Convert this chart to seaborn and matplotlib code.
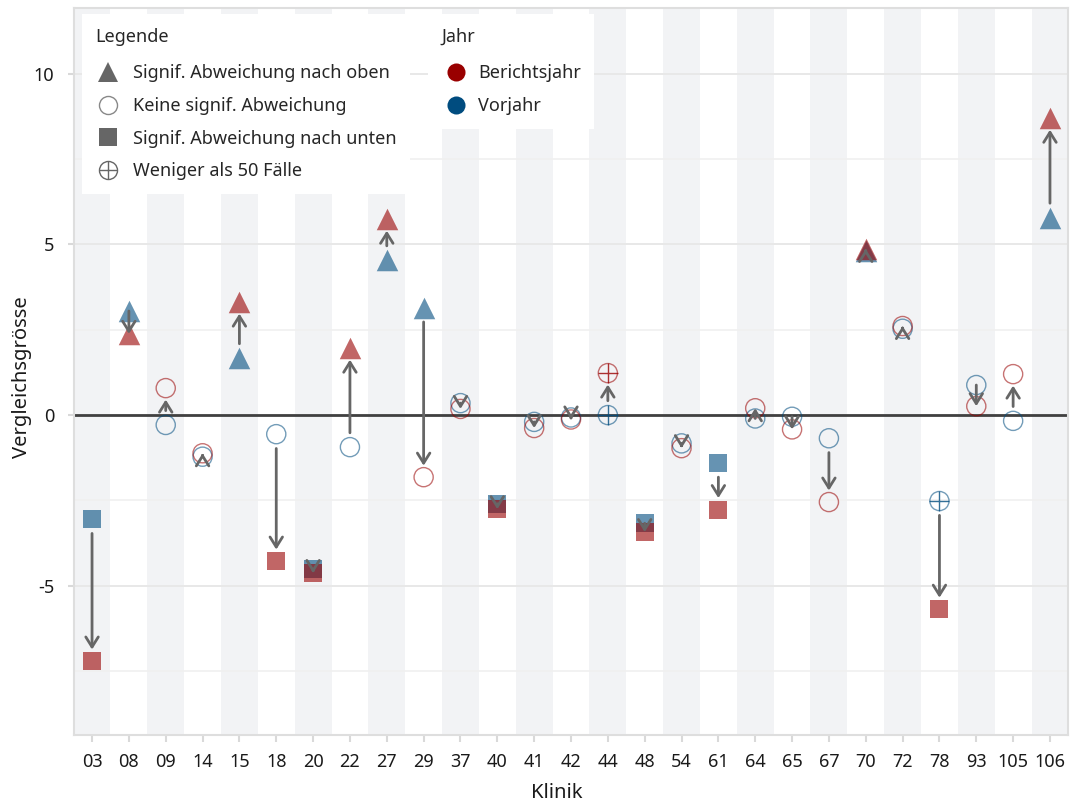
import pandas as pd
import seaborn as sns
import matplotlib.pyplot as plt
from matplotlib.lines import Line2D

# ------------------------------------------------------------------
# data
# ------------------------------------------------------------------
klinik = ['03', '08', '09', '14', '15', '18', '20', '22', '27', '29', '37', '40', '41',
          '42', '44', '48', '54', '61', '64', '65', '67', '70', '72', '78', '93', '105', '106']

vorjahr = [-3.05, 3.05, -0.29, -1.22, 1.67, -0.56, -4.52, -0.94, 4.54, 3.15, 0.35, -2.6, -0.2,
           -0.07, 0.0, -3.17, -0.83, -1.4, -0.1, -0.05, -0.68, 4.8, 2.53, -2.52, 0.88, -0.17, 5.79]
berichtsjahr = [-7.21, 2.38, 0.79, -1.12, 3.31, -4.28, -4.63, 1.96, 5.74, -1.82, 0.18, -2.76, -0.38,
                -0.13, 1.23, -3.43, -0.97, -2.77, 0.2, -0.42, -2.55, 4.87, 2.61, -5.69, 0.26, 1.2, 8.7]

# oben = signif. nach oben, keine = keine signif. Abweichung,
# unten = signif. nach unten, wenig = weniger als 50 Faelle
form_vorjahr = ['unten', 'oben', 'keine', 'keine', 'oben', 'keine', 'unten', 'keine', 'oben', 'oben',
                'keine', 'unten', 'keine', 'keine', 'wenig', 'unten', 'keine', 'unten', 'keine',
                'keine', 'keine', 'oben', 'keine', 'wenig', 'keine', 'keine', 'oben']
form_berichtsjahr = ['unten', 'oben', 'keine', 'keine', 'oben', 'unten', 'unten', 'oben', 'oben', 'keine',
                     'keine', 'unten', 'keine', 'keine', 'wenig', 'unten', 'keine', 'unten', 'keine',
                     'keine', 'keine', 'oben', 'keine', 'unten', 'keine', 'keine', 'oben']

legende_labels = ['Signif. Abweichung nach oben', 'Keine signif. Abweichung',
                  'Signif. Abweichung nach unten', 'Weniger als 50 Fälle']
jahre = ['Berichtsjahr', 'Vorjahr']

# ------------------------------------------------------------------
# style
# ------------------------------------------------------------------
sns.set_theme(style='white')
plt.rcParams['font.family'] = ['Noto Sans', 'DejaVu Sans']
plt.rcParams['axes.unicode_minus'] = False

farben = {'Berichtsjahr': '#990000', 'Vorjahr': '#004c7f'}
grau = '#666666'
textfarbe = '#1a1a1a'

pos = list(range(len(klinik)))
data = pd.concat([
    pd.DataFrame({'pos': pos, 'wert': vorjahr, 'form': form_vorjahr, 'jahr': 'Vorjahr'}),
    pd.DataFrame({'pos': pos, 'wert': berichtsjahr, 'form': form_berichtsjahr, 'jahr': 'Berichtsjahr'}),
], ignore_index=True)

fig = plt.figure(figsize=(10.7, 8.06), dpi=100)
ax = fig.add_axes([0.0688, 0.088, 0.9297, 0.902])

# alternating background bands
for i in range(0, len(klinik), 2):
    ax.axvspan(i - 0.5, i + 0.5, color='#f2f3f5', lw=0, zorder=0)

ax.axhline(0, color='#404040', lw=2, zorder=1.5)

# ------------------------------------------------------------------
# points: Vorjahr first so that Berichtsjahr lies on top
# ------------------------------------------------------------------
for jahr in ['Vorjahr', 'Berichtsjahr']:
    c = farben[jahr]
    for form in ['oben', 'keine', 'unten', 'wenig']:
        sub = data[(data['jahr'] == jahr) & (data['form'] == form)]
        if sub.empty:
            continue
        if form == 'oben':
            sns.scatterplot(data=sub, x='pos', y='wert', marker='^', s=240, color=c,
                            alpha=0.6, linewidth=0, ax=ax, zorder=2)
        elif form == 'unten':
            sns.scatterplot(data=sub, x='pos', y='wert', marker='s', s=175, color=c,
                            alpha=0.6, linewidth=0, ax=ax, zorder=2)
        else:
            sns.scatterplot(data=sub, x='pos', y='wert', marker='o', s=190, color=c,
                            facecolor='none', edgecolor=c, linewidth=1.0, alpha=0.55, ax=ax, zorder=2)
            if form == 'wenig':
                sns.scatterplot(data=sub, x='pos', y='wert', marker='+', s=190, color=c,
                                linewidth=1.0, alpha=0.8, ax=ax, zorder=2)

# arrows from Vorjahr to Berichtsjahr
gap = 0.42
for p, v, b in zip(pos, vorjahr, berichtsjahr):
    d = b - v
    sgn = 1 if d >= 0 else -1
    if abs(d) > 0.95:
        start, end = v + sgn * gap, b - sgn * gap * 0.8
    else:
        start, end = v, b
        if abs(d) < 0.04:
            start = b - sgn * 0.04
    ax.annotate('', xy=(p, end), xytext=(p, start),
                arrowprops=dict(arrowstyle='->,head_length=0.4,head_width=0.25', mutation_scale=18,
                                color=grau, lw=2, shrinkA=0, shrinkB=0),
                zorder=3)

# ------------------------------------------------------------------
# axes
# ------------------------------------------------------------------
ax.set_xlim(-0.5, len(klinik) - 0.5)
ax.set_ylim(-9.38, 11.93)
ax.set_xticks(pos)
ax.set_xticklabels(klinik)
ax.set_yticks([-5, 0, 5, 10])
ax.set_yticks([-7.5, -2.5, 2.5, 7.5], minor=True)
ax.set_axisbelow(True)
ax.grid(axis='y', which='major', color='#e8e8e8', lw=1.4)
ax.grid(axis='y', which='minor', color='#f0f0f0', lw=1.2)
ax.tick_params(axis='both', which='major', length=5, width=1.5, color='#d9d9d9',
               labelsize=13, labelcolor=textfarbe, pad=8)
ax.tick_params(axis='y', which='major', length=4, pad=10)
ax.tick_params(axis='y', which='minor', length=0)
ax.tick_params(axis='x', bottom=True)
ax.tick_params(axis='y', left=True)
for sp in ax.spines.values():
    sp.set_color('#dedede')
    sp.set_linewidth(1.5)
ax.set_xlabel('Klinik', fontsize=14.5, color=textfarbe)
ax.set_ylabel('Vergleichsgrösse', fontsize=14.5, color=textfarbe)
ax.xaxis.set_label_coords(0.486, -0.066)
ax.yaxis.set_label_coords(-0.042, 0.492)

# ------------------------------------------------------------------
# legends
# ------------------------------------------------------------------
h_form = [
    Line2D([], [], ls='', marker='^', markersize=15, color=grau, markeredgewidth=0),
    Line2D([], [], ls='', marker='o', markersize=13, markerfacecolor='white',
           markeredgecolor='#888888', markeredgewidth=1),
    Line2D([], [], ls='', marker='s', markersize=13, color=grau, markeredgewidth=0),
    (Line2D([], [], ls='', marker='o', markersize=13, markerfacecolor='none',
            markeredgecolor=grau, markeredgewidth=1),
     Line2D([], [], ls='', marker='+', markersize=13, color=grau, markeredgewidth=1)),
]
leg1 = ax.legend(h_form, legende_labels, title='Legende', loc='upper left',
                 bbox_to_anchor=(0.0084, 0.9917), fontsize=13,
                 title_fontproperties={'size': 13, 'weight': 'semibold'},
                 alignment='left', fancybox=False, framealpha=1, edgecolor='none',
                 labelspacing=0.81, handlelength=1.39, handletextpad=0.69,
                 borderpad=0.75, borderaxespad=0)
leg1.get_frame().set_facecolor('white')
leg1._legend_box.sep = 13.5  # a bit more room between title and entries
ax.add_artist(leg1)

h_jahr = [Line2D([], [], ls='', marker='o', markersize=13, color=farben[j], markeredgewidth=0)
          for j in jahre]
leg2 = ax.legend(h_jahr, jahre, title='Jahr', loc='upper left',
                 bbox_to_anchor=(0.356, 0.9917), fontsize=13,
                 title_fontproperties={'size': 13, 'weight': 'semibold'},
                 alignment='left', fancybox=False, framealpha=1, edgecolor='none',
                 labelspacing=0.81, handlelength=1.6, handletextpad=0.42,
                 borderpad=0.75, borderaxespad=0)
leg2.get_frame().set_facecolor('white')
leg2._legend_box.sep = 13.5

plt.savefig('out.png', dpi=100)
